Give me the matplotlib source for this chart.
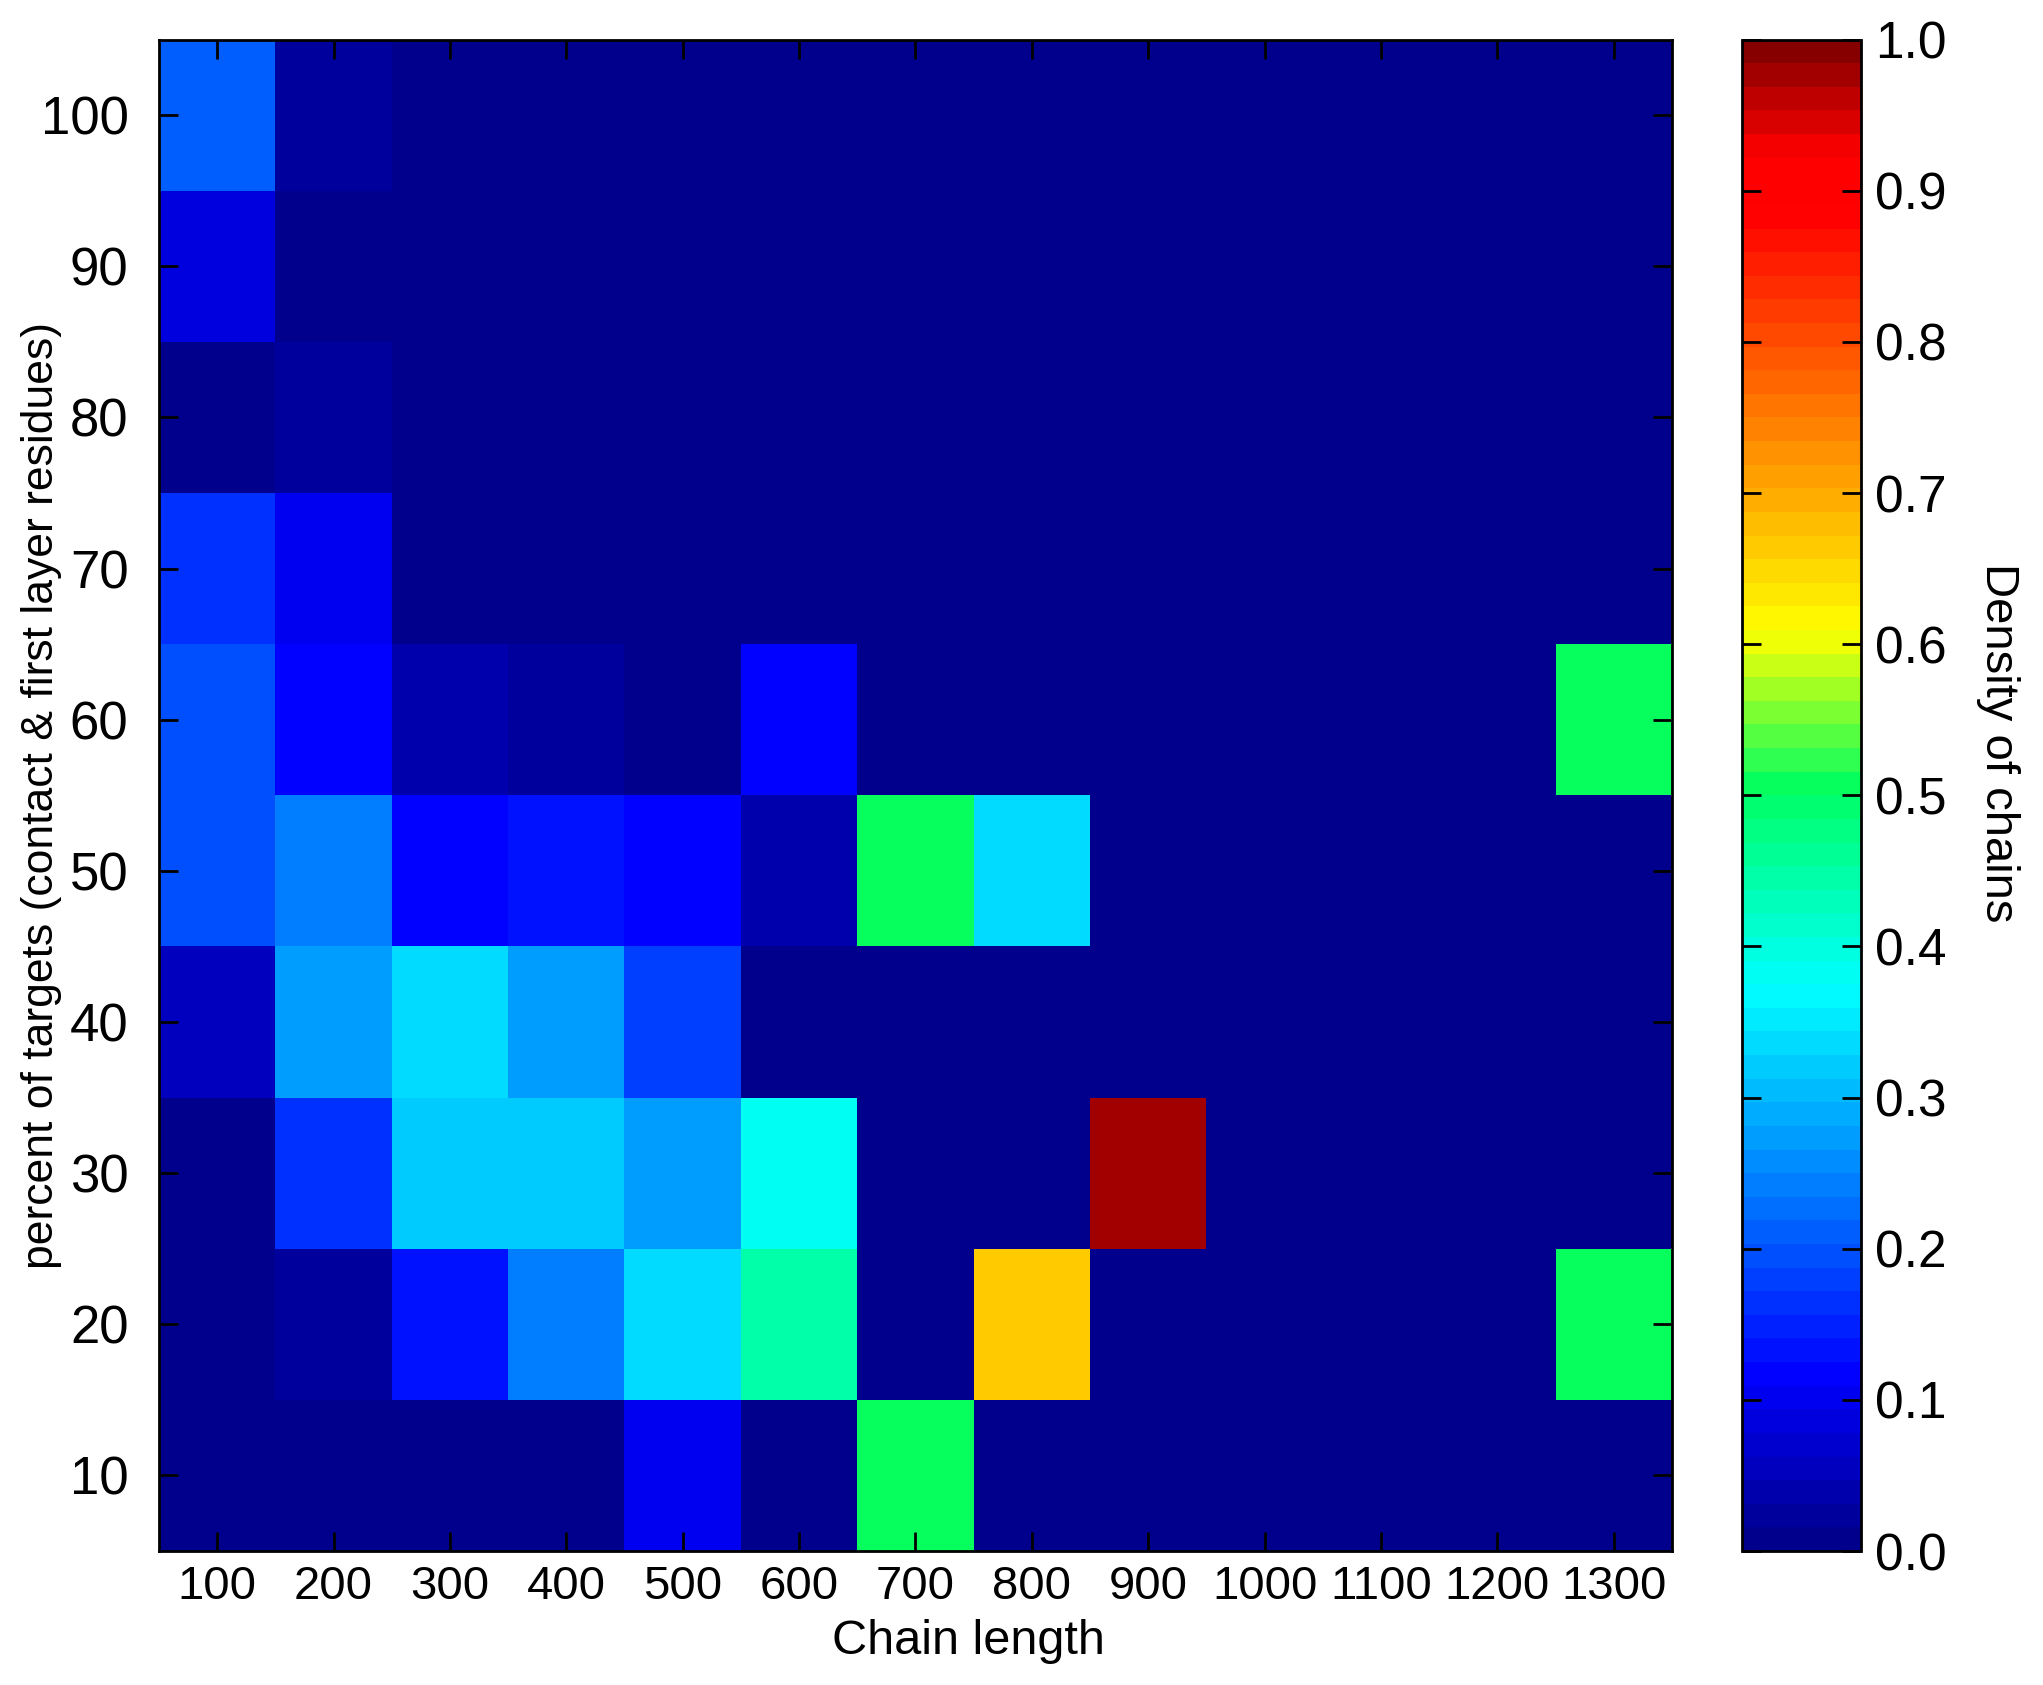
import numpy as np
import matplotlib
matplotlib.use('Agg')
import matplotlib.pyplot as plt
from matplotlib.colors import LinearSegmentedColormap

# chain length bins (columns) and percent-of-targets bins (rows)
chain_length = [100, 200, 300, 400, 500, 600, 700, 800, 900, 1000, 1100, 1200, 1300]
percent = [10, 20, 30, 40, 50, 60, 70, 80, 90, 100]

# density of chains, one row per percent bin (10 .. 100)
row_10 = [0.0, 0.0, 0.0, 0.0, 0.095, 0.0, 0.5, 0.0, 0.0, 0.0, 0.0, 0.0, 0.0]
row_20 = [0.0, 0.025, 0.14, 0.24, 0.33, 0.44, 0.0, 0.67, 0.0, 0.0, 0.0, 0.0, 0.5]
row_30 = [0.01, 0.165, 0.32, 0.32, 0.28, 0.375, 0.0, 0.0, 0.98, 0.0, 0.0, 0.0, 0.0]
row_40 = [0.06, 0.27, 0.335, 0.27, 0.175, 0.0, 0.0, 0.0, 0.0, 0.0, 0.0, 0.0, 0.0]
row_50 = [0.2, 0.24, 0.11, 0.13, 0.115, 0.045, 0.5, 0.335, 0.0, 0.0, 0.0, 0.0, 0.0]
row_60 = [0.2, 0.11, 0.045, 0.02, 0.01, 0.12, 0.0, 0.0, 0.0, 0.0, 0.0, 0.0, 0.5]
row_70 = [0.165, 0.1, 0.0, 0.0, 0.0, 0.0, 0.0, 0.0, 0.0, 0.0, 0.0, 0.0, 0.0]
row_80 = [0.01, 0.03, 0.0, 0.0, 0.0, 0.0, 0.0, 0.0, 0.0, 0.0, 0.0, 0.0, 0.0]
row_90 = [0.09, 0.0, 0.0, 0.0, 0.0, 0.0, 0.0, 0.0, 0.0, 0.0, 0.0, 0.0, 0.0]
row_100 = [0.215, 0.02, 0.0, 0.0, 0.0, 0.0, 0.0, 0.0, 0.0, 0.0, 0.0, 0.0, 0.0]

density = np.array([row_10, row_20, row_30, row_40, row_50,
                    row_60, row_70, row_80, row_90, row_100])

# jet-like map as drawn in the colorbar
cmap = LinearSegmentedColormap.from_list('jetish', [
    (0.0, (0, 0, 0.55)),
    (0.11, (0, 0, 1)),
    (0.37, (0, 1, 1)),
    (0.505, (0, 1, 0.38)),
    (0.61, (1, 1, 0)),
    (0.89, (1, 0, 0)),
    (0.93, (1, 0, 0)),
    (1.0, (0.53, 0, 0)),
], N=64)

plt.rcParams['font.family'] = ['Liberation Sans', 'DejaVu Sans']

fig = plt.figure(figsize=(20.43, 16.85), dpi=100)
ax = fig.add_axes([0.0778, 0.0795, 0.7406, 0.897])
cax = fig.add_axes([0.8527, 0.0795, 0.0582, 0.897])

x_edges = np.arange(50, 1351, 100)
y_edges = np.arange(5, 106, 10)
mesh = ax.pcolormesh(x_edges, y_edges, density, cmap=cmap, vmin=0, vmax=1)

ax.set_xlim(50, 1350)
ax.set_ylim(5, 105)
ax.set_xticks(chain_length)
ax.set_xticklabels([str(c) for c in chain_length])
ax.set_yticks(percent)
ax.set_yticklabels([str(p) for p in percent])
ax.tick_params(direction='in', length=14, width=2, top=True, right=True,
               labelsize=34, pad=10)
ax.tick_params(axis='y', labelsize=38, pad=22)
for s in ax.spines.values():
    s.set_linewidth(2)
ax.set_xlabel('Chain length', fontsize=35)
ax.xaxis.set_label_coords(0.535, -0.045)
ax.set_ylabel('percent of targets (contact & first layer residues)', fontsize=32)
ax.yaxis.set_label_coords(-0.064, 0.5)

cb = fig.colorbar(mesh, cax=cax)
cb.set_ticks(np.arange(0, 1.01, 0.1))
cb.set_ticklabels([f'{v:.1f}' for v in np.arange(0, 1.01, 0.1)])
cb.ax.tick_params(direction='in', length=14, width=2, left=True, right=True,
                  labelsize=37, pad=10)
cb.outline.set_linewidth(2)
cb.set_label('Density of chains', rotation=270, fontsize=34)
cb.ax.yaxis.set_label_coords(2.34, 0.535)

fig.savefig('out.png', dpi=100)
